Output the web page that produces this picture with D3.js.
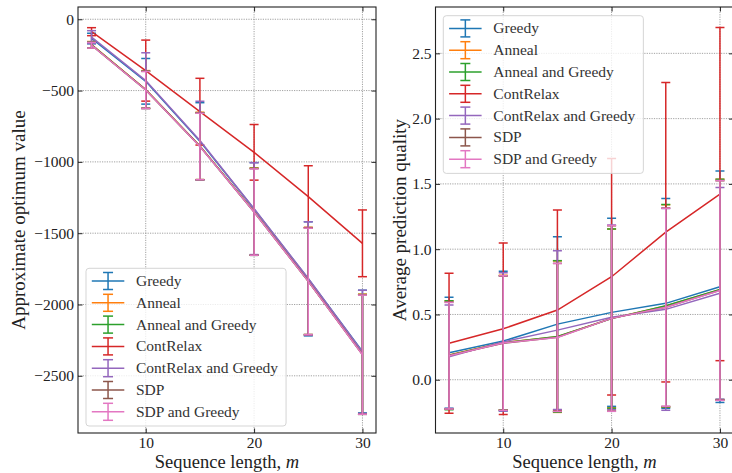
<!DOCTYPE html>
<html>
<head>
<meta charset="utf-8">
<script src="https://cdnjs.cloudflare.com/ajax/libs/d3/7.8.5/d3.min.js"></script>
<style>
    body { margin: 0; background: #fff; }
    text { font-family: "Liberation Serif", "Times New Roman", "DejaVu Serif", serif; }
</style>
</head>
<body>
<svg id="viz" width="732" height="473"></svg>
<script>
var lengths = [5, 10, 15, 20, 25, 30];
var methods = ["Greedy", "Anneal", "Anneal and Greedy", "ContRelax", "ContRelax and Greedy", "SDP", "SDP and Greedy"];
var colors = ["#1f77b4", "#ff7f0e", "#2ca02c", "#d62728", "#9467bd", "#8c564b", "#e377c2"];

// approximate optimum value, one row per method
var optMean = [
    [-135, -435, -855, -1330, -1820, -2330],
    [-178, -492, -888, -1348, -1835, -2348],
    [-180, -494, -890, -1350, -1836, -2350],
    [-87, -360, -648, -933, -1244, -1571],
    [-125, -430, -850, -1328, -1818, -2332],
    [-181, -495, -891, -1351, -1837, -2351],
    [-182, -496, -892, -1352, -1838, -2352]
];
var optErr = [
    [37, 160, 270, 325, 400, 430],
    [22, 132, 236, 306, 376, 421],
    [21, 131, 235, 305, 375, 420],
    [28, 214, 234, 195, 217, 234],
    [45, 195, 275, 322, 398, 432],
    [20, 130, 234, 304, 374, 419],
    [20, 130, 233, 303, 373, 418]
];

// average prediction quality
var qualMean = [
    [0.207, 0.296, 0.426, 0.516, 0.585, 0.712],
    [0.190, 0.285, 0.330, 0.470, 0.565, 0.690],
    [0.188, 0.283, 0.332, 0.468, 0.567, 0.692],
    [0.279, 0.390, 0.534, 0.789, 1.130, 1.422],
    [0.176, 0.290, 0.380, 0.478, 0.539, 0.662],
    [0.185, 0.280, 0.325, 0.470, 0.555, 0.685],
    [0.184, 0.281, 0.324, 0.470, 0.555, 0.684]
];
var qualErr = [
    [0.425, 0.535, 0.669, 0.720, 0.804, 0.886],
    [0.415, 0.515, 0.580, 0.685, 0.775, 0.845],
    [0.417, 0.513, 0.580, 0.686, 0.776, 0.843],
    [0.536, 0.657, 0.766, 0.906, 1.147, 1.276],
    [0.396, 0.530, 0.608, 0.707, 0.773, 0.811],
    [0.410, 0.514, 0.566, 0.710, 0.760, 0.840],
    [0.408, 0.515, 0.567, 0.712, 0.758, 0.842]
];

var lengthTicks = [10, 20, 30];
var optTicks = [0, -500, -1000, -1500, -2000, -2500];
var qualTicks = [0, 0.5, 1.0, 1.5, 2.0, 2.5];

var FONT = "Liberation Serif, Times New Roman, DejaVu Serif, serif";
var svg = d3.select("#viz");

function drawPanel(cfg) {
    var box = cfg.box;
    var x = d3.scaleLinear().domain([3.75, 31.25]).range([box.left, box.right]);
    var y = d3.scaleLinear().domain(cfg.yDomain).range([box.bottom, box.top]);
    var g = svg.append("g");

    g.append("clipPath").attr("id", cfg.id + "-clip")
        .append("rect")
        .attr("x", box.left).attr("y", box.top)
        .attr("width", box.right - box.left).attr("height", box.bottom - box.top);

    // dotted grid
    var grid = g.append("g").attr("stroke", "#8a8a8a").attr("stroke-width", 0.8)
        .attr("stroke-dasharray", "1.2,1.2");
    grid.selectAll(".gx").data(lengthTicks).enter().append("line")
        .attr("x1", x).attr("x2", x).attr("y1", box.top).attr("y2", box.bottom);
    grid.selectAll(".gy").data(cfg.yTicks).enter().append("line")
        .attr("y1", y).attr("y2", y).attr("x1", box.left).attr("x2", box.right);

    var plot = g.append("g").attr("clip-path", "url(#" + cfg.id + "-clip)");
    var line = d3.line().x(function (d) { return x(d[0]); }).y(function (d) { return y(d[1]); });
    var cap = 4.5;

    methods.forEach(function (m, i) {
        var pts = lengths.map(function (l, j) { return [l, cfg.mean[i][j], cfg.err[i][j]]; });
        var s = plot.append("g").attr("stroke", colors[i]).attr("stroke-width", 1.5).attr("fill", "none");
        s.append("path").attr("d", line(pts));
        s.selectAll(".bar").data(pts).enter().append("line")
            .attr("x1", function (d) { return x(d[0]); })
            .attr("x2", function (d) { return x(d[0]); })
            .attr("y1", function (d) { return y(d[1] - d[2]); })
            .attr("y2", function (d) { return y(d[1] + d[2]); });
        [-1, 1].forEach(function (sign) {
            s.selectAll(".cap" + sign).data(pts).enter().append("line")
                .attr("x1", function (d) { return x(d[0]) - cap; })
                .attr("x2", function (d) { return x(d[0]) + cap; })
                .attr("y1", function (d) { return y(d[1] + sign * d[2]); })
                .attr("y2", function (d) { return y(d[1] + sign * d[2]); });
        });
    });

    // axes, ticks pointing inwards on all four sides
    var tick = 4.5;
    var bottom = g.append("g").attr("transform", "translate(0," + box.bottom + ")")
        .call(d3.axisBottom(x).tickValues(lengthTicks).tickSize(-tick).tickPadding(4));
    var top = g.append("g").attr("transform", "translate(0," + box.top + ")")
        .call(d3.axisTop(x).tickValues(lengthTicks).tickSize(-tick).tickFormat(""));
    var left = g.append("g").attr("transform", "translate(" + box.left + ",0)")
        .call(d3.axisLeft(y).tickValues(cfg.yTicks).tickSize(-tick).tickPadding(4).tickFormat(cfg.format));
    var right = g.append("g").attr("transform", "translate(" + box.right + ",0)")
        .call(d3.axisRight(y).tickValues(cfg.yTicks).tickSize(-tick).tickFormat(""));
    [bottom, top, left, right].forEach(function (a) {
        a.attr("font-family", FONT).attr("font-size", 15.5);
        a.select(".domain").remove();
        a.selectAll(".tick line").attr("stroke", "#111").attr("stroke-width", 0.9);
        a.selectAll(".tick text").attr("fill", "#222");
    });

    g.append("rect")
        .attr("x", box.left).attr("y", box.top)
        .attr("width", box.right - box.left).attr("height", box.bottom - box.top)
        .attr("fill", "none").attr("stroke", "#222").attr("stroke-width", 1.1);

    var xl = g.append("text")
        .attr("x", (box.left + box.right) / 2).attr("y", 468)
        .attr("text-anchor", "middle").attr("font-family", FONT).attr("font-size", 18.5).attr("fill", "#222")
        .text("Sequence length, ");
    xl.append("tspan").attr("font-style", "italic").text("m");

    g.append("text")
        .attr("transform", "translate(" + cfg.labelX + "," + (box.top + box.bottom) / 2 + ") rotate(-90)")
        .attr("text-anchor", "middle").attr("font-family", FONT).attr("font-size", 19).attr("fill", "#222")
        .text(cfg.label);

    drawLegend(g, cfg.legend);
}

function drawLegend(g, pos) {
    var rowH = 21.8;
    var h = 12.7 + rowH * (methods.length - 1) + 14.2;
    var top = pos.top !== undefined ? pos.top : pos.bottom - h;
    var lg = g.append("g");
    var bg = lg.append("rect")
        .attr("x", pos.left).attr("y", top).attr("height", h)
        .attr("rx", 3).attr("fill", "#fff").attr("fill-opacity", 0.8)
        .attr("stroke", "#d0d0d0").attr("stroke-width", 0.9);
    var maxW = 0;
    methods.forEach(function (m, i) {
        var cy = top + 12.7 + i * rowH;
        var x0 = pos.left + 5.8, x1 = x0 + 32.5, xm = (x0 + x1) / 2;
        var hg = lg.append("g").attr("stroke", colors[i]).attr("stroke-width", 1.5);
        hg.append("line").attr("x1", x0).attr("x2", x1).attr("y1", cy).attr("y2", cy);
        hg.append("line").attr("x1", xm).attr("x2", xm).attr("y1", cy - 8.5).attr("y2", cy + 8.5);
        hg.append("line").attr("x1", xm - 5).attr("x2", xm + 5).attr("y1", cy - 8.5).attr("y2", cy - 8.5);
        hg.append("line").attr("x1", xm - 5).attr("x2", xm + 5).attr("y1", cy + 8.5).attr("y2", cy + 8.5);
        var t = lg.append("text").attr("x", pos.left + 50).attr("y", cy + 5)
            .attr("font-family", FONT).attr("font-size", 15.5).attr("fill", "#333").text(m);
        maxW = Math.max(maxW, t.node().getComputedTextLength());
    });
    bg.attr("width", 50 + maxW + 8);
}

drawPanel({
    id: "opt",
    box: { left: 78, right: 376, top: 7, bottom: 433 },
    yDomain: [-2901, 86],
    mean: optMean,
    err: optErr,
    yTicks: optTicks,
    format: d3.format("d"),
    label: "Approximate optimum value",
    labelX: 25,
    legend: { left: 86, bottom: 426 }
});

drawPanel({
    id: "qual",
    box: { left: 435.5, right: 733.5, top: 7, bottom: 433 },
    yDomain: [-0.408, 2.855],
    mean: qualMean,
    err: qualErr,
    yTicks: qualTicks,
    format: d3.format(".1f"),
    label: "Average prediction quality",
    labelX: 406,
    legend: { left: 443.3, top: 15.7 }
});
</script>
</body>
</html>
